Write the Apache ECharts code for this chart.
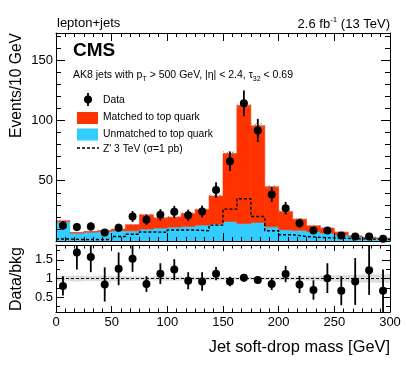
<!DOCTYPE html>
<html><head><meta charset="utf-8">
<script src="https://cdn.jsdelivr.net/npm/echarts@6/dist/echarts.min.js"></script>
<style>html,body{margin:0;padding:0;background:#fff}#c{width:407px;height:370px}</style>
</head><body><div id="c"></div>
<script>
// ---------- data ----------
const binEdges = [0,12.5,25,37.5,50,62.5,75,87.5,100,112.5,125,137.5,150,162.5,175,187.5,200,212.5,225,237.5,250,262.5,275,287.5,300];
const unmatched = [16.0,6.5,7.3,7.9,8.5,8.5,9.9,10.7,11.5,12.1,13.2,14.0,16.2,14.6,15.4,11.8,9.3,8.9,7.9,6.5,5.1,3.7,2.9,2.1];
const matched   = [0.8,0.5,0.6,0.8,1.4,5.0,11.8,8.5,8.3,10.7,12.8,23.3,56.3,98.0,80.1,33.2,15.1,9.2,4.7,4.2,2.3,0.6,0.3,0.3];
const mcUnc     = [0.8,0.5,0.5,0.6,0.6,0.7,0.9,0.9,0.9,1.0,1.0,1.3,1.8,2.3,2.1,1.4,1.0,0.8,0.7,0.6,0.5,0.4,0.3,0.3];
const zprime    = [1.6,1.2,1.2,1.2,3.7,5.6,7.5,7.2,9.1,9.1,8.5,13.2,26.4,35.1,20.3,8.5,5.2,3.8,3.0,2.5,2.2,1.8,1.5,1.3];
const dataVals  = [12.9,11.6,12.1,7.1,11.0,20.3,17.6,21.7,24.2,21.4,24.5,42.3,66.2,114.2,91.7,38.5,27.2,14.8,8.7,8.7,4.5,3.7,3.7,1.9];
const dataErr   = [3.6,3.4,3.5,2.7,3.3,4.5,4.2,4.7,4.9,4.6,4.9,6.5,8.1,10.7,9.6,6.2,5.2,3.8,2.9,2.9,2.1,1.9,1.9,1.4];
const ratioVals = [0.80,1.70,1.58,0.84,1.26,1.53,0.85,1.13,1.24,0.94,0.92,1.13,0.92,1.02,0.96,0.85,1.12,0.84,0.69,1.01,0.67,0.92,1.22,0.67];
const ratioErr  = [0.26,0.46,0.41,0.46,0.44,0.35,0.21,0.28,0.28,0.23,0.25,0.18,0.13,0.10,0.10,0.16,0.22,0.23,0.26,0.40,0.39,0.63,0.66,0.57];
const ratioBand = [0.06,0.07,0.06,0.07,0.06,0.05,0.04,0.05,0.05,0.04,0.04,0.04,0.03,0.03,0.03,0.03,0.04,0.04,0.05,0.07,0.08,0.09,0.10,0.10];
const xTickLabels = [0,50,100,150,200,250,300];
const yMainLabels = [50,100,150];
const yMainMajor = [0,50,100,150];
const yMainMinor = [10,20,30,40,60,70,80,90,110,120,130,140,160,170];
const yRatioLabels = [0.5,1,1.5];
const yRatioMinor = [0.25,0.75,1.25,1.75];

const RED = '#ff3300', CYAN = '#33ccff';
const FONT = '"Liberation Sans", Arial, Helvetica, sans-serif';

// ---------- build series data ----------
const n = dataVals.length;
const cyanRects = [], redRects = [], hatchRects = [], bandRects = [], dataPts = [], ratioPts = [], zLine = [];
for (let i = 0; i < n; i++) {
  const lo = binEdges[i], hi = binEdges[i+1];
  const tot = unmatched[i] + matched[i];
  cyanRects.push([lo, hi, 0, unmatched[i]]);
  redRects.push([lo, hi, unmatched[i], tot]);
  hatchRects.push([lo, hi, tot - mcUnc[i], tot + mcUnc[i]]);
  bandRects.push([lo, hi, 1 - ratioBand[i], 1 + ratioBand[i]]);
  dataPts.push([(lo+hi)/2, dataVals[i], dataErr[i]]);
  ratioPts.push([(lo+hi)/2, ratioVals[i], ratioErr[i]]);
  zLine.push([lo, zprime[i]]);
}
zLine.push([binEdges[n], zprime[n-1]]);

const hatchCanvas = document.createElement('canvas');
hatchCanvas.width = 5; hatchCanvas.height = 5;
(function(){const c = hatchCanvas.getContext('2d'); c.strokeStyle = '#8a8a8a'; c.lineWidth = 1;
  c.beginPath(); c.moveTo(0,5); c.lineTo(5,0); c.stroke();})();

function clampY(y, cs) { return Math.max(cs.y, Math.min(cs.y + cs.height, y)); }

function rectRender(fill, stroke) {
  return function(params, api) {
    const cs = params.coordSys;
    const a = api.coord([api.value(0), api.value(2)]);
    const b = api.coord([api.value(1), api.value(3)]);
    const y0 = clampY(a[1], cs), y1 = clampY(b[1], cs);
    return {type: 'rect', shape: {x: a[0], y: y1, width: b[0]-a[0], height: y0-y1},
      style: {fill: fill, stroke: stroke || null, lineWidth: stroke ? 0.6 : 0}};
  };
}
function pointRender(r) {
  return function(params, api) {
    const cs = params.coordSys;
    const x = api.value(0), v = api.value(1), e = api.value(2);
    const p = api.coord([x, v]);
    const top = clampY(api.coord([x, v + e])[1], cs);
    const bot = clampY(api.coord([x, v - e])[1], cs);
    const children = [{type: 'line', shape: {x1: p[0], y1: top, x2: p[0], y2: bot}, style: {stroke: '#000', lineWidth: 1.8}}];
    if (p[1] >= cs.y && p[1] <= cs.y + cs.height)
      children.push({type: 'circle', shape: {cx: p[0], cy: p[1], r: r}, style: {fill: '#000'}});
    return {type: 'group', children: children};
  };
}

function xAx(grid, pos, showLabel, len, mlen) {
  return {type: 'value', gridIndex: grid, position: pos, min: 0, max: 300, interval: 50, z: 5,
    axisLine: {onZero: false, lineStyle: {color: '#000', width: 1}},
    axisTick: {inside: true, length: len, lineStyle: {color: '#000'}},
    minorTick: {show: true, splitNumber: 6, length: mlen, lineStyle: {color: '#000'}},
    splitLine: {show: false}, minorSplitLine: {show: false},
    axisLabel: {show: showLabel, color: '#000', fontSize: 13, fontFamily: FONT, margin: 4, customValues: xTickLabels}};
}
function yAx(grid, pos, min, max, ticks, len, labels, showLine) {
  return {type: 'value', gridIndex: grid, position: pos, min: min, max: max, z: 5,
    axisLine: {show: showLine, onZero: false, lineStyle: {color: '#000', width: 1}},
    axisTick: {inside: true, length: len, customValues: ticks, lineStyle: {color: '#000'}},
    splitLine: {show: false},
    axisLabel: labels ? {show: true, color: '#000', fontSize: 13, fontFamily: FONT, margin: 3, customValues: labels} : {show: false}};
}

const chart = echarts.init(document.getElementById('c'), null, {renderer: 'canvas'});
chart.setOption({
  animation: false,
  backgroundColor: '#fff',
  grid: [
    {left: 56, top: 33, width: 334, height: 208},
    {left: 56, top: 245, width: 334, height: 67}
  ],
  xAxis: [
    xAx(0, 'bottom', false, 8, 4),
    xAx(0, 'top', false, 8, 4),
    xAx(1, 'bottom', true, 6, 3.5),
    xAx(1, 'top', false, 6, 3.5)
  ],
  yAxis: [
    yAx(0, 'left', 0, 172.5, yMainMajor, 9, yMainLabels, true),
    yAx(0, 'left', 0, 172.5, yMainMinor, 5, null, false),
    yAx(0, 'right', 0, 172.5, yMainMajor, 9, null, true),
    yAx(0, 'right', 0, 172.5, yMainMinor, 5, null, false),
    yAx(1, 'left', 0.1, 1.9, yRatioLabels, 8, yRatioLabels, true),
    yAx(1, 'left', 0.1, 1.9, yRatioMinor, 4, null, false),
    yAx(1, 'right', 0.1, 1.9, yRatioLabels, 8, null, true),
    yAx(1, 'right', 0.1, 1.9, yRatioMinor, 4, null, false)
  ],
  series: [
    {type: 'custom', name: 'Unmatched', xAxisIndex: 0, yAxisIndex: 0, data: cyanRects,
      encode: {x: [0,1], y: [2,3]}, renderItem: rectRender(CYAN, CYAN), z: 1},
    {type: 'custom', name: 'Matched', xAxisIndex: 0, yAxisIndex: 0, data: redRects,
      encode: {x: [0,1], y: [2,3]}, renderItem: rectRender(RED, RED), z: 1},
    {type: 'custom', name: 'Unc', xAxisIndex: 0, yAxisIndex: 0, data: hatchRects,
      encode: {x: [0,1], y: [2,3]}, renderItem: rectRender({image: hatchCanvas, repeat: 'repeat'}), z: 2},
    {type: 'line', name: 'Zprime', xAxisIndex: 0, yAxisIndex: 0, data: zLine, step: 'end',
      showSymbol: false, symbol: 'none', lineStyle: {color: '#000', width: 1.4, type: [3, 2]}, z: 3},
    {type: 'custom', name: 'Data', xAxisIndex: 0, yAxisIndex: 0, data: dataPts,
      encode: {x: 0, y: 1}, renderItem: pointRender(4), z: 4},
    {type: 'custom', name: 'Band', xAxisIndex: 2, yAxisIndex: 4, data: bandRects,
      encode: {x: [0,1], y: [2,3]}, renderItem: rectRender('#dcdcdc', '#dcdcdc'), z: 1},
    {type: 'line', name: 'One', xAxisIndex: 2, yAxisIndex: 4, data: [[0,1],[300,1]],
      showSymbol: false, symbol: 'none', lineStyle: {color: '#000', width: 1.2, type: [3, 2]}, z: 2},
    {type: 'custom', name: 'Ratio', xAxisIndex: 2, yAxisIndex: 4, data: ratioPts,
      encode: {x: 0, y: 1}, renderItem: pointRender(4), z: 4}
  ],
  graphic: [
    {type: 'text', x: 57, y: 23, style: {text: 'lepton+jets', font: '13px ' + FONT, fill: '#000', verticalAlign: 'middle', align: 'left'}},
    {type: 'text', x: 390, y: 23, style: {text: '{a|2.6 fb}{s|-1}{a| (13 TeV)}', align: 'right', verticalAlign: 'middle',
      rich: {a: {fontSize: 13, fontFamily: FONT, lineHeight: 15, verticalAlign: 'bottom', fill: '#000'},
             s: {fontSize: 8, fontFamily: FONT, lineHeight: 9, verticalAlign: 'top', fill: '#000'}}}},
    {type: 'text', x: 73, y: 51, style: {text: 'CMS', font: 'bold 19px ' + FONT, fill: '#000', verticalAlign: 'middle'}},
    {type: 'text', x: 73, y: 76, style: {
      text: '{a|AK8 jets with p}{s|T}{a| > 500 GeV, |η| < 2.4, τ}{s|32}{a| < 0.69}', verticalAlign: 'middle',
      rich: {a: {fontSize: 10.5, fontFamily: FONT, lineHeight: 12, verticalAlign: 'top', fill: '#000'},
             s: {fontSize: 7, fontFamily: FONT, lineHeight: 8, padding: [6, 0, 0, 0], verticalAlign: 'top', fill: '#000'}}}},
    // legend
    {type: 'line', shape: {x1: 88, y1: 93, x2: 88, y2: 106}, style: {stroke: '#000', lineWidth: 1.8}},
    {type: 'circle', shape: {cx: 88, cy: 99.5, r: 4}, style: {fill: '#000'}},
    {type: 'text', x: 103, y: 100, style: {text: 'Data', font: '10.3px ' + FONT, fill: '#000', verticalAlign: 'middle'}},
    {type: 'rect', shape: {x: 77, y: 112, width: 21, height: 12}, style: {fill: RED}},
    {type: 'text', x: 103, y: 117.5, style: {text: 'Matched to top quark', font: '10.3px ' + FONT, fill: '#000', verticalAlign: 'middle'}},
    {type: 'rect', shape: {x: 77, y: 128.5, width: 21, height: 12}, style: {fill: CYAN}},
    {type: 'text', x: 103, y: 134.5, style: {text: 'Unmatched to top quark', font: '10.3px ' + FONT, fill: '#000', verticalAlign: 'middle'}},
    {type: 'line', shape: {x1: 77, y1: 148, x2: 99, y2: 148}, style: {stroke: '#000', lineWidth: 1.4, lineDash: [3, 2]}},
    {type: 'text', x: 103, y: 149, style: {text: "Z' 3 TeV (σ=1 pb)", font: '10.3px ' + FONT, fill: '#000', verticalAlign: 'middle'}},
    // axis titles
    {type: 'text', x: 17, y: 33, rotation: Math.PI/2, style: {text: 'Events/10 GeV', font: '15.6px ' + FONT, fill: '#000', align: 'right', verticalAlign: 'middle'}},
    {type: 'text', x: 17, y: 279, rotation: Math.PI/2, style: {text: 'Data/bkg', font: '16px ' + FONT, fill: '#000', align: 'center', verticalAlign: 'middle'}},
    {type: 'text', x: 390, y: 347, style: {text: 'Jet soft-drop mass [GeV]', font: '16.4px ' + FONT, fill: '#000', align: 'right', verticalAlign: 'middle'}}
  ]
});
</script></body></html>
